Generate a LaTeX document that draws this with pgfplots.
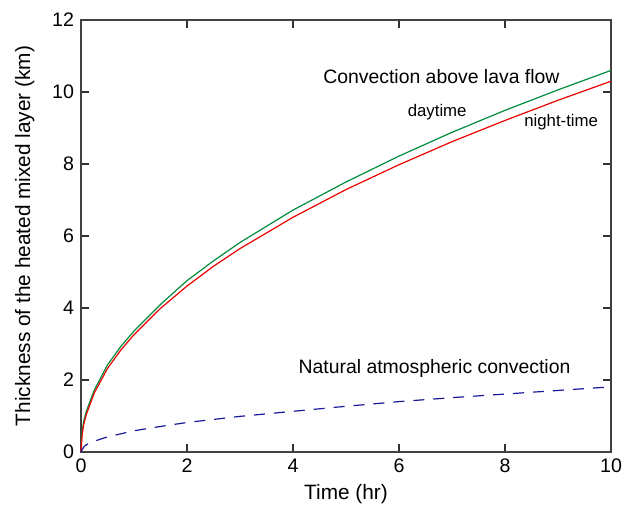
\documentclass[border=0pt]{standalone}
\usepackage{pgfplots}
\pgfplotsset{compat=1.18}
\usepackage{fontspec}
\setmainfont{Liberation Sans}
\definecolor{dayg}{RGB}{0,140,60}
\definecolor{nightr}{RGB}{235,0,0}
\definecolor{natb}{RGB}{25,25,155}
\begin{document}
\begin{tikzpicture}
\begin{axis}[
  name=ax,
  width=265pt, height=216pt, scale only axis,
  xmin=0, xmax=10, ymin=0, ymax=12,
  xtick={0,2,...,10}, ytick={0,2,...,12},
  tick align=inside, major tick length=4pt,
  xtick pos=both, ytick pos=both,
  axis line style={line width=0.9pt, black!75},
  tick style={line width=0.6pt, black!80},
  /pgf/number format/assume math mode=true,
  ticklabel style={font=\fontsize{9.8}{11}\selectfont},
  label style={font=\fontsize{10.4}{12}\selectfont},
  xlabel={Time (hr)},
  ylabel={Thickness of the heated mixed layer (km)},
  xlabel style={yshift=1pt},
  ylabel style={yshift=2pt},
  clip=false,
]
\addplot[dayg, line width=0.6pt] coordinates {
(0,0.25) (0.02,0.55) (0.05,0.85) (0.1,1.13) (0.25,1.72) (0.5,2.42) (0.75,2.93) (1,3.36) (1.5,4.1) (2,4.76) (2.5,5.31) (3,5.82) (4,6.72) (5,7.5) (6,8.22) (7,8.88) (8,9.49) (9,10.06) (10,10.6)};
\addplot[nightr, line width=0.6pt] coordinates {
(0,0) (0.02,0.45) (0.05,0.76) (0.1,1.04) (0.25,1.64) (0.5,2.32) (0.75,2.83) (1,3.26) (1.5,3.99) (2,4.61) (2.5,5.16) (3,5.65) (4,6.52) (5,7.29) (6,7.98) (7,8.62) (8,9.21) (9,9.77) (10,10.3)};
\addplot[natb, line width=0.6pt, dash pattern=on 5.5pt off 4.5pt] coordinates {
(0,0) (0.05,0.14) (0.1,0.2) (0.25,0.3) (0.5,0.42) (1,0.59) (1.5,0.71) (2,0.82) (3,0.99) (4,1.13) (5,1.27) (6,1.4) (7,1.51) (8,1.61) (9,1.71) (10,1.81)};
\node[font=\fontsize{9.7}{11}\selectfont] at (axis cs:6.8,10.44) {Convection above lava flow};
\node[font=\fontsize{8.4}{10}\selectfont] at (axis cs:6.72,9.44) {daytime};
\node[font=\fontsize{8.4}{10}\selectfont] at (axis cs:9.06,9.17) {night-time};
\node[font=\fontsize{9.7}{11}\selectfont] at (axis cs:6.67,2.31) {Natural atmospheric convection};
\end{axis}
\pgfresetboundingbox
\path ([shift={(-40.5pt,-28.5pt)}]ax.south west) rectangle ([shift={(12pt,10pt)}]ax.north east);
\end{tikzpicture}
\end{document}
